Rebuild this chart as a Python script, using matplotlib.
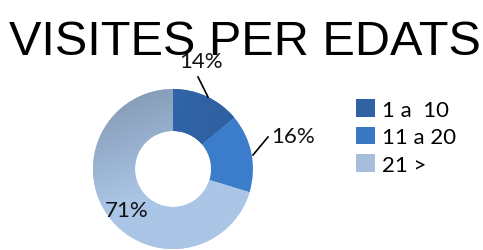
import numpy as np
import matplotlib
import matplotlib.pyplot as plt
from matplotlib.patches import Patch

matplotlib.use('Agg')

title = "VISITES PER EDATS"
categories = ["1 a  10", "11 a 20", "21 >"]
values = [14, 16, 71]
pct_labels = ["14%", "16%", "71%"]
colors = ["#3466A9", "#3B7CCB", "#A9C4E5"]

W, H = 483, 251
fig = plt.figure(figsize=(W / 100, H / 100), dpi=100)
ax = fig.add_axes([0, 0, 1, 1])

cx, cy, r = 173, 251 - 170, 80
wedges, _ = ax.pie(values, colors=colors, startangle=90, counterclock=False,
                   center=(cx, cy), radius=r, wedgeprops=dict(width=42, linewidth=0),
                   frame=True)

# gradient on the big slice (greyish top-left to light blue at the bottom)
gx, gy = np.meshgrid(np.linspace(0, 1, 200), np.linspace(0, 1, 200))
t = np.clip((gy * 1.4 + gx * 0.5) / 1.1, 0, 1)
c0 = np.array([0x80, 0x95, 0xB0]) / 255
c1 = np.array([0xAA, 0xC5, 0xE6]) / 255
grad = c0 + (c1 - c0) * t[..., None]
im = ax.imshow(grad, extent=[cx - r, cx + r, cy - r, cy + r], origin='upper', zorder=3)
im.set_clip_path(wedges[2])

# slight gradient on first slice
t2 = np.clip(gx * 0.8 + gy * 0.2, 0, 1)
d0 = np.array([0x31, 0x6A, 0xB2]) / 255
d1 = np.array([0x2F, 0x5C, 0x9A]) / 255
grad2 = d0 + (d1 - d0) * t2[..., None]
im2 = ax.imshow(grad2, extent=[cx - r, cx + r, cy - r, cy + r], origin='upper', zorder=3)
im2.set_clip_path(wedges[0])

ax.set_xlim(0, W)
ax.set_ylim(0, H)
ax.set_aspect('equal')
ax.axis('off')

lab_font = dict(family='Lato', fontsize=16, color='#111111')
# 14%
ax.text(201, 251 - 62, pct_labels[0], ha='center', va='center', zorder=5, **lab_font)
ax.plot([198, 208], [251 - 78, 251 - 98], color='black', lw=1.2, zorder=5)
# 16%
ax.text(293, 251 - 137, pct_labels[1], ha='center', va='center', zorder=5, **lab_font)
ax.plot([268, 253], [251 - 138, 251 - 156], color='black', lw=1.2, zorder=5)
# 71%
ax.text(127, 251 - 211, pct_labels[2], ha='center', va='center', zorder=5, **lab_font)

fig.text(245 / W, (251 - 55) / H, title, ha='center', va='baseline',
         family='Liberation Sans', fontsize=35, color='black')

handles = [Patch(facecolor=c, edgecolor='none') for c in ["#2F61A3", "#3A78C6", "#A6BEDC"]]
leg = fig.legend(handles, categories, loc='upper left', bbox_to_anchor=(336 / W, 1 - 80 / H),
                 frameon=False, prop=dict(family='Lato', size=16),
                 handlelength=0.85, handleheight=0.85, handletextpad=0.3, labelspacing=0.32)

fig.savefig('out.png', dpi=100)
